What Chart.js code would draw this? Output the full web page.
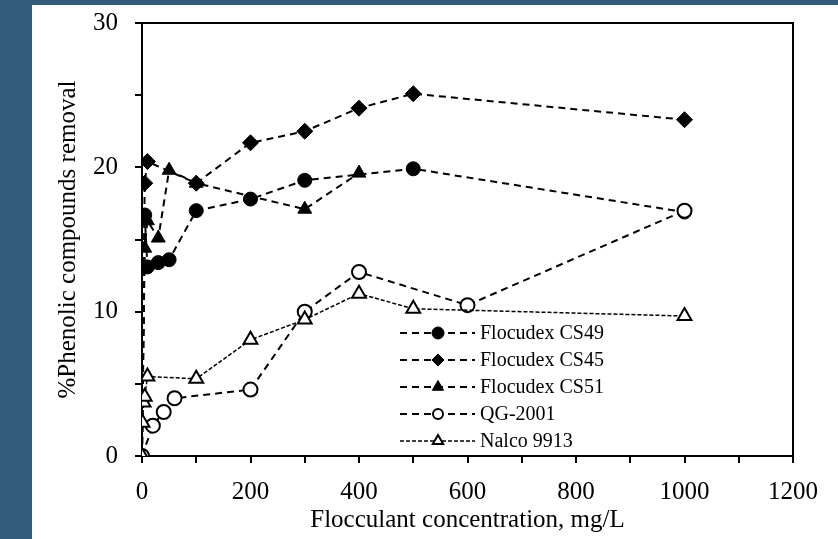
<!DOCTYPE html>
<html>
<head>
<meta charset="utf-8">
<script src="https://cdn.jsdelivr.net/npm/chart.js@4/dist/chart.umd.min.js"></script>
<style>
  html, body { margin: 0; padding: 0; background: #315b79; width: 838px; height: 539px; overflow: hidden; }
  #wrap { position: absolute; left: 32px; top: 5px; width: 806px; height: 534px; background: #ffffff; }
  canvas { display: block; }
</style>
</head>
<body>
<div id="wrap"><canvas id="c" width="806" height="534"></canvas></div>
<script>
// ---- data ----
const seriesLabels = ["Flocudex CS49", "Flocudex CS45", "Flocudex CS51", "QG-2001", "Nalco 9913"];

const concCS49 = [0, 5, 10, 30, 50, 100, 200, 300, 500, 1000];
const removalCS49 = [0, 16.7, 13.1, 13.4, 13.6, 17.0, 17.8, 19.1, 19.9, 16.9];

const concCS45 = [0, 5, 10, 100, 200, 300, 400, 500, 1000];
const removalCS45 = [0, 18.9, 20.4, 18.9, 21.7, 22.5, 24.1, 25.1, 23.3];

const concCS51 = [0, 5, 10, 30, 50, 100, 300, 400];
const removalCS51 = [0, 14.4, 16.3, 15.1, 19.8, 18.9, 17.1, 19.6];

const concQG = [0, 20, 40, 60, 200, 300, 400, 600, 1000];
const removalQG = [0, 2.1, 3.05, 4.0, 4.6, 10.0, 12.75, 10.45, 17.0];

const concNalco = [0, 1, 3, 5, 10, 100, 200, 300, 400, 500, 1000];
const removalNalco = [0, 2.3, 3.7, 4.1, 5.5, 5.35, 8.05, 9.45, 11.25, 10.2, 9.7];

const xTickMin = 0, xTickMax = 1200, xTickStep = 100, xLabelEvery = 200;
const yTickMin = 0, yTickMax = 30, yTickStep = 5, yLabelEvery = 10;

const xTitle = "Flocculant concentration, mg/L";
const yTitle = "%Phenolic compounds removal";

// ---- chart ----
const FONT = '"Liberation Serif", "Times New Roman", serif';
const pts = (xs, ys) => xs.map((x, i) => ({ x: x, y: ys[i] }));
const hideZero = (r) => (ctx) => (ctx.raw && ctx.raw.x === 0 && ctx.raw.y === 0) ? 0 : r;

const datasets = [
  { label: seriesLabels[0], data: pts(concCS49, removalCS49), pointStyle: 'circle', pointRadius: hideZero(7),
    backgroundColor: '#000', borderColor: '#000', pointBorderWidth: 1, borderDash: [7, 5], borderWidth: 2, order: 3,
    legendRadius: 6 },
  { label: seriesLabels[1], data: pts(concCS45, removalCS45), pointStyle: 'rectRot', pointRadius: hideZero(8),
    backgroundColor: '#000', borderColor: '#000', pointBorderWidth: 1, borderDash: [7, 5], borderWidth: 2, order: 2,
    legendRadius: 6 },
  { label: seriesLabels[2], data: pts(concCS51, removalCS51), pointStyle: 'triangle', pointRadius: hideZero(8),
    backgroundColor: '#000', borderColor: '#000', pointBorderWidth: 1, borderDash: [7, 5], borderWidth: 2, order: 4,
    legendRadius: 6.5 },
  { label: seriesLabels[3], data: pts(concQG, removalQG), pointStyle: 'circle', pointRadius: 7,
    backgroundColor: '#fff', borderColor: '#000', pointBorderWidth: 2, borderDash: [7, 5], borderWidth: 2, order: 1,
    legendRadius: 5 },
  { label: seriesLabels[4], data: pts(concNalco, removalNalco), pointStyle: 'triangle', pointRadius: 8,
    backgroundColor: '#fff', borderColor: '#000', pointBorderWidth: 2, borderDash: [4, 2], borderWidth: 1.5, order: 0,
    legendRadius: 6 }
];
datasets.forEach(d => { d.showLine = true; d.fill = false; d.pointBackgroundColor = d.backgroundColor; d.pointBorderColor = '#000'; d.tension = 0; });

const framePlugin = {
  id: 'frame',
  afterDatasetsDraw(chart) {
    const { ctx, chartArea: a } = chart;
    ctx.save();
    ctx.strokeStyle = '#000';
    ctx.lineWidth = 2;
    ctx.setLineDash([]);
    ctx.beginPath();
    ctx.moveTo(a.left, a.top);
    ctx.lineTo(a.right, a.top);
    ctx.lineTo(a.right, a.bottom);
    ctx.stroke();
    ctx.restore();
  }
};

const legendPlugin = {
  id: 'insideLegend',
  afterDatasetsDraw(chart) {
    const { ctx } = chart;
    const x0 = 368, x1 = 443, xm = 406, xt = 448, y0 = 328, dy = 27;
    chart.data.datasets.forEach((d, i) => {
      const y = y0 + i * dy;
      ctx.save();
      ctx.strokeStyle = '#000';
      ctx.lineWidth = d.borderWidth;
      ctx.setLineDash(d.borderDash);
      ctx.beginPath();
      ctx.moveTo(x0, y);
      ctx.lineTo(x1, y);
      ctx.stroke();
      ctx.setLineDash([]);
      ctx.fillStyle = d.backgroundColor;
      ctx.strokeStyle = '#000';
      ctx.lineWidth = d.pointBorderWidth;
      Chart.helpers.drawPoint(ctx, { pointStyle: d.pointStyle, radius: d.legendRadius, rotation: 0, borderWidth: d.pointBorderWidth }, xm, y);
      ctx.fillStyle = '#000';
      ctx.font = '20px ' + FONT;
      ctx.textBaseline = 'middle';
      ctx.textAlign = 'left';
      ctx.fillText(d.label, xt, y + 1);
      ctx.restore();
    });
  }
};

new Chart(document.getElementById('c'), {
  type: 'scatter',
  data: { datasets: datasets },
  options: {
    responsive: false,
    animation: false,
    devicePixelRatio: 1,
    layout: { padding: { left: 0, top: 18, right: 45, bottom: 0 } },
    plugins: { legend: { display: false }, tooltip: { enabled: false } },
    elements: { line: { borderCapStyle: 'butt' } },
    scales: {
      x: {
        type: 'linear', min: xTickMin, max: xTickMax,
        afterFit: (s) => { s.height = 83; s.paddingLeft = 0; s.paddingRight = 0; },
        ticks: {
          stepSize: xTickStep, autoSkip: false, maxRotation: 0, color: '#000', padding: 14,
          font: { family: FONT, size: 25 },
          callback: (v) => (v % xLabelEvery === 0 ? String(v) : '')
        },
        grid: { display: true, drawOnChartArea: false, drawTicks: true, tickLength: 7, color: '#000', lineWidth: 2 },
        border: { display: true, color: '#000', width: 2 },
        title: { display: true, text: xTitle, color: '#000', font: { family: FONT, size: 25, lineHeight: 1 }, padding: { top: 6, bottom: 6 } }
      },
      y: {
        type: 'linear', min: yTickMin, max: yTickMax,
        afterFit: (s) => { s.width = 110; s.paddingTop = 0; s.paddingBottom = 0; },
        ticks: {
          stepSize: yTickStep, color: '#000', padding: 17,
          font: { family: FONT, size: 25 },
          callback: (v) => (v % yLabelEvery === 0 ? String(v) : '')
        },
        grid: { display: true, drawOnChartArea: false, drawTicks: true, tickLength: 7, color: '#000', lineWidth: 2 },
        border: { display: true, color: '#000', width: 2 },
        title: { display: true, text: yTitle, color: '#000', font: { family: FONT, size: 25, lineHeight: 1 }, padding: { top: 24, bottom: 0 } }
      }
    }
  },
  plugins: [framePlugin, legendPlugin]
});
</script>
</body>
</html>
